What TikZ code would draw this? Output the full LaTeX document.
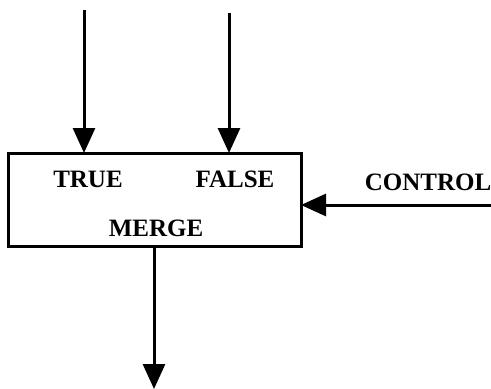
\documentclass[tikz,border=0pt]{standalone}
\usepackage{fontspec}
\setmainfont{Liberation Serif}
\usetikzlibrary{arrows.meta}
\begin{document}
\begin{tikzpicture}[x=1pt,y=-1pt,
  flow/.style={line width=3pt,-{Triangle[length=25pt,width=22pt]}},
  lbl/.style={font=\fontsize{25}{25}\selectfont\bfseries,inner sep=0pt}]
\useasboundingbox (0,0) rectangle (491,389);
% merge box
\draw[line width=3pt] (8,153) rectangle (301,246);
\node[lbl] (true)  at (88,179)  {TRUE};
\node[lbl] (false) at (235,179) {FALSE};
\node[lbl] (merge) at (156,228) {MERGE};
\node[lbl] (ctl)   at (428,182) {CONTROL};
% endpoints of the connectors
\coordinate (tin)  at (84,10);
\coordinate (tend) at (84,153);
\coordinate (fin)  at (229,13);
\coordinate (fend) at (229,153);
\coordinate (cin)  at (491,205);
\coordinate (cend) at (301,205);
\coordinate (oin)  at (154,246);
\coordinate (oend) at (154,389);
\draw[flow] (tin) -- (tend);
\draw[flow] (fin) -- (fend);
\draw[flow] (cin) -- (cend);
\draw[flow] (oin) -- (oend);
\end{tikzpicture}
\end{document}
